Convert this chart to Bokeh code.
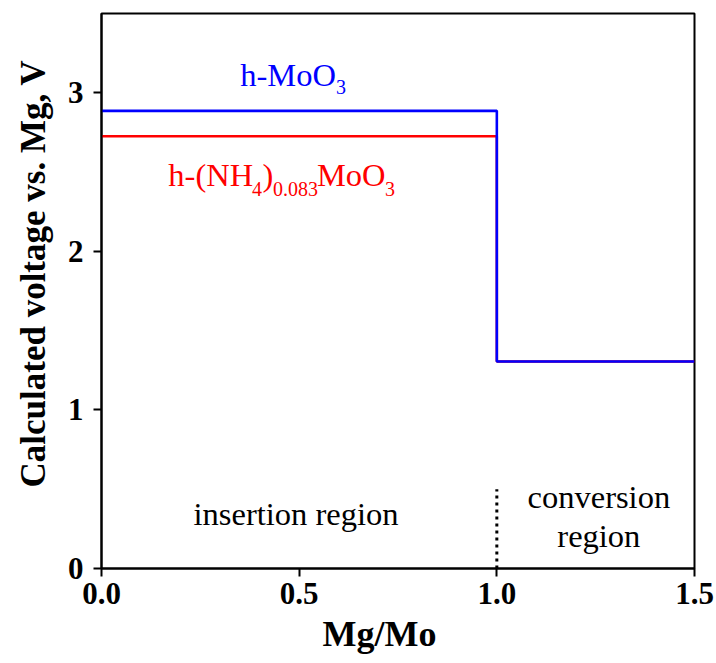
from bokeh.plotting import figure
from bokeh.models import FixedTicker, Label, Range1d, Title
from bokeh.embed import file_html
from bokeh.resources import INLINE

# Data
x_steps = [0.0, 1.0, 1.5]
v_hmoo3 = [2.886, 1.305, 1.305]          # h-MoO3
v_nh4 = [2.726, 1.305, 1.305]            # h-(NH4)0.083MoO3
x_ticks = [0.0, 0.5, 1.0, 1.5]
x_tick_labels = ["0.0", "0.5", "1.0", "1.5"]
y_ticks = [0, 1, 2, 3]
y_tick_labels = ["0", "1", "2", "3"]
boundary_x = [1.0, 1.0]
boundary_y = [0.0, 0.5]
x_title = "Mg/Mo"
y_title = "Calculated voltage vs. Mg,  V"

FONT = "Liberation Serif"

p = figure(width=716, height=663, output_backend="svg", toolbar_location=None,
           x_range=Range1d(0, 1.5), y_range=Range1d(0, 3.5),
           min_border_left=101, min_border_right=22, min_border_top=13, min_border_bottom=95)
p.background_fill_color = "white"
p.border_fill_color = "white"
p.outline_line_color = "black"
p.outline_line_width = 2
p.xgrid.visible = False
p.ygrid.visible = False

p.step(x_steps, v_nh4, mode="after", line_color="#ff0000", line_width=2.5)
p.step(x_steps, v_hmoo3, mode="after", line_color="#0000ff", line_width=2.6)
p.line(boundary_x, boundary_y, line_color="black", line_width=3, line_dash="3 4")

for ax in (p.xaxis[0], p.yaxis[0]):
    ax.axis_line_width = 2
    ax.major_tick_line_width = 2
    ax.major_tick_out = 8
    ax.major_tick_in = 0
    ax.minor_tick_out = 0
    ax.minor_tick_in = 0
    ax.major_label_text_font = FONT
    ax.major_label_text_font_style = "bold"
    ax.major_label_text_font_size = "31px"
    ax.major_label_text_color = "black"

p.xaxis.ticker = FixedTicker(ticks=x_ticks)
p.xaxis.major_label_overrides = dict(zip(x_ticks, x_tick_labels))
p.yaxis.ticker = FixedTicker(ticks=y_ticks)
p.yaxis.major_label_overrides = dict(zip(y_ticks, y_tick_labels))
p.xaxis.major_label_standoff = 6
p.yaxis.major_label_standoff = 10

# axis titles (as Titles so they can be offset like the original)
p.add_layout(Title(text=x_title, align="left", offset=221, standoff=10,
                   text_font=FONT, text_font_style="bold", text_font_size="36px",
                   text_color="black"), "below")
p.add_layout(Title(text=y_title, align="left", offset=81, standoff=20,
                   vertical_align="top",
                   text_font=FONT, text_font_style="bold", text_font_size="35px",
                   text_color="black"), "left")


def lab(x, y, t, color, size, align="left"):
    p.add_layout(Label(x=x, y=y, text=t, text_color=color, text_font=FONT,
                       text_font_size=size, text_align=align,
                       text_baseline="alphabetic"))


BLUE = "#0000ff"
RED = "#ff0000"
BIG = "32.5px"
SUB = "20px"
dy = 0.057
lab(0.351, 3.056 + dy, "h-MoO", BLUE, BIG)
lab(0.593, 2.980 + dy, "3", BLUE, SUB)

lab(0.169, 2.426 + dy, "h-(NH", RED, BIG)
lab(0.381, 2.338 + dy, "4", RED, SUB)
lab(0.407, 2.426 + dy, ")", RED, BIG)
lab(0.434, 2.338 + dy, "0.083", RED, SUB)
lab(0.545, 2.426 + dy, "MoO", RED, BIG)
lab(0.717, 2.338 + dy, "3", RED, SUB)

lab(0.492, 0.287 + dy, "insertion region", "black", BIG, "center")
lab(1.258, 0.397 + dy, "conversion", "black", BIG, "center")
lab(1.258, 0.151 + dy, "region", "black", BIG, "center")

open("out.html", "w").write(file_html(p, INLINE))
